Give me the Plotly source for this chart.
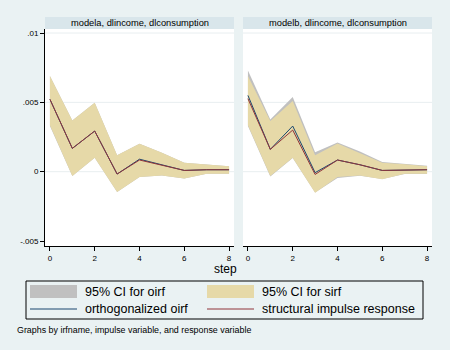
import plotly.graph_objects as go

steps = [0, 1, 2, 3, 4, 5, 6, 7, 8]
panel_titles = ["modela, dlincome, dlconsumption", "modelb, dlincome, dlconsumption"]
ytick_vals = [-0.005, 0, 0.005, 0.01]
ytick_text = ["-.005", "0", ".005", ".01"]
grid_vals = [0, 0.005, 0.01]
xtick_vals = [0, 2, 4, 6, 8]

# modela
oirf_a = [0.00522, 0.00168, 0.00293, -0.00017, 0.00090, 0.00050, 0.00009, 0.00014, 0.00014]
sirf_a = [0.00522, 0.00168, 0.00293, -0.00017, 0.00084, 0.00048, 0.00009, 0.00014, 0.00014]
oirf_lo_a = [0.00330, -0.00032, 0.00101, -0.00147, -0.00039, -0.00027, -0.00050, -0.00015, -0.00015]
oirf_hi_a = [0.00690, 0.00370, 0.00498, 0.00118, 0.00202, 0.00137, 0.00065, 0.00053, 0.00040]
sirf_lo_a = [0.00335, -0.00032, 0.00101, -0.00147, -0.00039, -0.00027, -0.00050, -0.00015, -0.00015]
sirf_hi_a = [0.00690, 0.00370, 0.00498, 0.00118, 0.00202, 0.00137, 0.00065, 0.00053, 0.00040]

# modelb
oirf_b = [0.00550, 0.00161, 0.00329, -0.00007, 0.00084, 0.00050, 0.00009, 0.00014, 0.00014]
sirf_b = [0.00527, 0.00161, 0.00300, -0.00020, 0.00084, 0.00050, 0.00009, 0.00014, 0.00014]
oirf_lo_b = [0.00330, -0.00034, 0.00098, -0.00150, -0.00045, -0.00030, -0.00052, -0.00017, -0.00016]
oirf_hi_b = [0.00730, 0.00377, 0.00538, 0.00140, 0.00210, 0.00145, 0.00070, 0.00057, 0.00043]
sirf_lo_b = [0.00335, -0.00032, 0.00100, -0.00152, -0.00039, -0.00027, -0.00055, -0.00015, -0.00015]
sirf_hi_b = [0.00690, 0.00365, 0.00510, 0.00118, 0.00204, 0.00137, 0.00065, 0.00053, 0.00040]

legend_labels = ["95% CI for oirf", "95% CI for sirf", "orthogonalized oirf", "structural impulse response"]

GRAY = "#C0C0C0"
SAND = "#E6D9A8"
NAVY = "#1A476F"
MAROON = "#90353B"
BG = "#EAF2F3"
STRIP = "#D9E6EB"
FONT = "Liberation Sans"

W, H = 450, 350
def px(x):
    return x / W
def py(y):
    return 1 - y / H

fig = go.Figure()

panels = [
    (oirf_a, sirf_a, oirf_lo_a, oirf_hi_a, sirf_lo_a, sirf_hi_a, "x", "y"),
    (oirf_b, sirf_b, oirf_lo_b, oirf_hi_b, sirf_lo_b, sirf_hi_b, "x2", "y2"),
]
for (o, s, olo, ohi, slo, shi, xa, ya) in panels:
    fig.add_trace(go.Scatter(x=steps + steps[::-1], y=ohi + olo[::-1], fill="toself",
                             fillcolor=GRAY, line=dict(width=0), mode="lines",
                             xaxis=xa, yaxis=ya, hoverinfo="skip", showlegend=False))
    fig.add_trace(go.Scatter(x=steps + steps[::-1], y=shi + slo[::-1], fill="toself",
                             fillcolor=SAND, line=dict(width=0), mode="lines",
                             xaxis=xa, yaxis=ya, hoverinfo="skip", showlegend=False))
    fig.add_trace(go.Scatter(x=steps, y=o, mode="lines", line=dict(color=NAVY, width=1),
                             xaxis=xa, yaxis=ya, showlegend=False))
    fig.add_trace(go.Scatter(x=steps, y=s, mode="lines", line=dict(color=MAROON, width=1),
                             xaxis=xa, yaxis=ya, showlegend=False))

yrange = [-0.00536, 0.01029]
xrange = [-0.22, 8.22]
ydom = [py(246), py(29)]

common_x = dict(range=xrange, tickvals=xtick_vals, ticks="outside", ticklen=4, tickcolor="black",
                showline=True, linecolor="black", linewidth=1, showgrid=False, zeroline=False,
                tickfont=dict(family=FONT, size=8, color="black"), fixedrange=True)
fig.update_layout(
    width=W, height=H,
    margin=dict(l=0, r=0, t=0, b=0),
    paper_bgcolor=BG, plot_bgcolor="white",
    showlegend=False,
    xaxis=dict(domain=[px(45), px(234)], anchor="y", **common_x),
    xaxis2=dict(domain=[px(243), px(432)], anchor="y2", **common_x),
    yaxis=dict(domain=ydom, range=yrange, tickvals=ytick_vals, ticktext=ytick_text,
               ticks="outside", ticklen=4, tickcolor="black", showline=True, linecolor="black",
               linewidth=1, showgrid=False, zeroline=False, anchor="x",
               tickfont=dict(family=FONT, size=8, color="black")),
    yaxis2=dict(domain=ydom, range=yrange, showticklabels=False, ticks="", showline=False,
                showgrid=False, zeroline=False, anchor="x2"),
)

shapes = []
annotations = []
# gridlines
for xr, yr in (("x", "y"), ("x2", "y2")):
    for g in grid_vals:
        shapes.append(dict(type="line", xref=xr + " domain", yref=yr, x0=0, x1=1, y0=g, y1=g,
                           line=dict(color="#E8EEF0", width=1), layer="below"))

# strips
for (x0, x1), t in zip([(45, 234), (243, 432)], panel_titles):
    shapes.append(dict(type="rect", xref="paper", yref="paper", x0=px(x0), x1=px(x1),
                       y0=py(29), y1=py(17), fillcolor=STRIP, line=dict(width=0)))
    annotations.append(dict(text=t, xref="paper", yref="paper", x=px((x0 + x1) / 2), y=py(23),
                            showarrow=False, font=dict(family=FONT, size=9.3, color="black"),
                            xanchor="center", yanchor="middle"))

# x title
annotations.append(dict(text="step", xref="paper", yref="paper", x=px(225), y=py(269),
                        showarrow=False, font=dict(family=FONT, size=12, color="black"),
                        xanchor="center", yanchor="middle"))

# legend box
shapes.append(dict(type="rect", xref="paper", yref="paper", x0=px(26), x1=px(423),
                   y0=py(319), y1=py(281), fillcolor=BG, line=dict(color="black", width=1)))
# swatches
shapes.append(dict(type="rect", xref="paper", yref="paper", x0=px(30), x1=px(77),
                   y0=py(298), y1=py(285), fillcolor=GRAY, line=dict(width=0)))
shapes.append(dict(type="rect", xref="paper", yref="paper", x0=px(207), x1=px(254),
                   y0=py(298), y1=py(285), fillcolor=SAND, line=dict(width=0)))
shapes.append(dict(type="line", xref="paper", yref="paper", x0=px(30), x1=px(77),
                   y0=py(309), y1=py(309), line=dict(color=NAVY, width=1)))
shapes.append(dict(type="line", xref="paper", yref="paper", x0=px(207), x1=px(254),
                   y0=py(309), y1=py(309), line=dict(color=MAROON, width=1)))
for lbl, (lx, ly) in zip(legend_labels, [(83, 292), (260, 292), (83, 309), (260, 309)]):
    annotations.append(dict(text=lbl, xref="paper", yref="paper", x=px(lx), y=py(ly),
                            showarrow=False, font=dict(family=FONT, size=12.5, color="black"),
                            xanchor="left", yanchor="middle"))

annotations.append(dict(text="Graphs by irfname, impulse variable, and response variable",
                        xref="paper", yref="paper", x=px(15), y=py(330), showarrow=False,
                        font=dict(family=FONT, size=8.9, color="black"),
                        xanchor="left", yanchor="middle"))

fig.update_layout(shapes=shapes, annotations=annotations)
fig.write_html("out.html")
